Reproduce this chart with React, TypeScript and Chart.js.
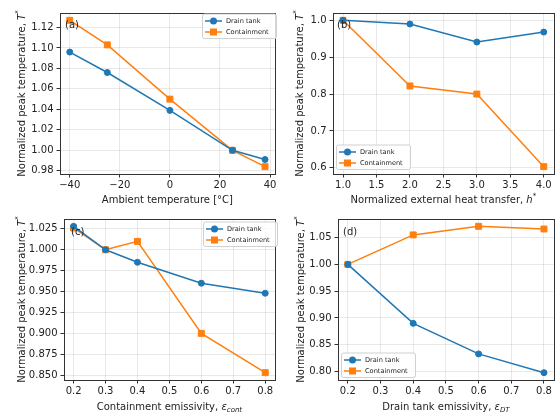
import React, { useEffect, useRef } from "react";
import { Chart, registerables } from "chart.js";

Chart.register(...registerables);

// ---------- data ----------
const ambientTemp = [-40, -25, 0, 25, 38];
const ambientDrain = [1.096, 1.076, 1.039, 1.0, 0.991];
const ambientCont = [1.127, 1.103, 1.05, 1.0, 0.984];
const ambientXTicks = [-40, -20, 0, 20, 40];
const ambientYTicks = [0.98, 1.0, 1.02, 1.04, 1.06, 1.08, 1.1, 1.12];

const heatTransfer = [1, 2, 3, 4];
const heatDrain = [1.0, 0.99, 0.941, 0.968];
const heatCont = [1.0, 0.822, 0.8, 0.603];
const heatXTicks = [1.0, 1.5, 2.0, 2.5, 3.0, 3.5, 4.0];
const heatYTicks = [0.6, 0.7, 0.8, 0.9, 1.0];

const contEmis = [0.2, 0.3, 0.4, 0.6, 0.8];
const contEmisDrain = [1.028, 1.0, 0.985, 0.96, 0.948];
const contEmisCont = [1.026, 1.0, 1.01, 0.9, 0.853];
const contEmisXTicks = [0.2, 0.3, 0.4, 0.5, 0.6, 0.7, 0.8];
const contEmisYTicks = [0.85, 0.875, 0.9, 0.925, 0.95, 0.975, 1.0, 1.025];

const dtEmis = [0.2, 0.4, 0.6, 0.8];
const dtEmisDrain = [1.0, 0.89, 0.833, 0.798];
const dtEmisCont = [1.0, 1.055, 1.071, 1.066];
const dtEmisXTicks = [0.2, 0.3, 0.4, 0.5, 0.6, 0.7, 0.8];
const dtEmisYTicks = [0.8, 0.85, 0.9, 0.95, 1.0, 1.05];

const seriesNames = ["Drain tank", "Containment"];
const BLUE = "#1f77b4";
const ORANGE = "#ff7f0e";
const FONT = '"DejaVu Sans", sans-serif';
const TEXT = "#222";

type Seg = { t: string; it?: boolean; sub?: boolean; sup?: boolean };

const yTitle: Seg[] = [
  { t: "Normalized peak temperature, " },
  { t: "T", it: true },
  { t: "*", sup: true },
];

function drawRich(ctx: CanvasRenderingContext2D, segs: Seg[], x: number, y: number, rot: number, size: number) {
  ctx.save();
  ctx.translate(x, y);
  ctx.rotate(rot);
  const fontFor = (s: Seg) => `${s.it ? "italic " : ""}${s.sub || s.sup ? size * 0.7 : size}px ${FONT}`;
  const widths = segs.map((s) => {
    ctx.font = fontFor(s);
    return ctx.measureText(s.t).width;
  });
  const total = widths.reduce((a, b) => a + b, 0);
  let cx = -total / 2;
  ctx.textAlign = "left";
  ctx.textBaseline = "alphabetic";
  ctx.fillStyle = TEXT;
  const base = size * 0.36;
  segs.forEach((s, i) => {
    ctx.font = fontFor(s);
    const dy = s.sub ? size * 0.22 : s.sup ? -size * 0.42 : 0;
    ctx.fillText(s.t, cx, base + dy);
    cx += widths[i];
  });
  ctx.restore();
}

type Panel = {
  canvas: { l: number; t: number; w: number; h: number };
  area: { l: number; t: number; r: number; b: number };
  x: number[];
  drain: number[];
  cont: number[];
  xTicks: number[];
  yTicks: number[];
  xDec: number;
  yDec: number;
  xTitle: Seg[];
  xTitleY: number;
  yTitleX: number;
  label: string;
  labelPos: { x: number; y: number };
  legend: { x: number; y: number };
};

const panels: Panel[] = [
  {
    canvas: { l: 0, t: 0, w: 280, h: 205 },
    area: { l: 60, t: 13, r: 277, b: 174 },
    x: ambientTemp,
    drain: ambientDrain,
    cont: ambientCont,
    xTicks: ambientXTicks,
    yTicks: ambientYTicks,
    xDec: 0,
    yDec: 2,
    xTitle: [{ t: "Ambient temperature [°C]" }],
    xTitleY: 199,
    yTitleX: 21,
    label: "(a)",
    labelPos: { x: 65, y: 25 },
    legend: { x: 202, y: 13.5 },
  },
  {
    canvas: { l: 279, t: 0, w: 280, h: 205 },
    area: { l: 333, t: 13, r: 557, b: 174 },
    x: heatTransfer,
    drain: heatDrain,
    cont: heatCont,
    xTicks: heatXTicks,
    yTicks: heatYTicks,
    xDec: 1,
    yDec: 1,
    xTitle: [
      { t: "Normalized external heat transfer, " },
      { t: "h", it: true },
      { t: "*", sup: true },
    ],
    xTitleY: 199,
    yTitleX: 299,
    label: "(b)",
    labelPos: { x: 337, y: 25 },
    legend: { x: 336, y: 144.5 },
  },
  {
    canvas: { l: 0, t: 205, w: 280, h: 210 },
    area: { l: 64, t: 219, r: 279, b: 380 },
    x: contEmis,
    drain: contEmisDrain,
    cont: contEmisCont,
    xTicks: contEmisXTicks,
    yTicks: contEmisYTicks,
    xDec: 1,
    yDec: 3,
    xTitle: [
      { t: "Containment emissivity, " },
      { t: "ε", it: true },
      { t: "cont", it: true, sub: true },
    ],
    xTitleY: 406,
    yTitleX: 21,
    label: "(c)",
    labelPos: { x: 71, y: 232 },
    legend: { x: 203, y: 221.5 },
  },
  {
    canvas: { l: 279, t: 205, w: 280, h: 210 },
    area: { l: 338, t: 219, r: 557, b: 380 },
    x: dtEmis,
    drain: dtEmisDrain,
    cont: dtEmisCont,
    xTicks: dtEmisXTicks,
    yTicks: dtEmisYTicks,
    xDec: 1,
    yDec: 2,
    xTitle: [
      { t: "Drain tank emissivity, " },
      { t: "ε", it: true },
      { t: "DT", it: true, sub: true },
    ],
    xTitleY: 406,
    yTitleX: 300,
    label: "(d)",
    labelPos: { x: 343, y: 232 },
    legend: { x: 341, y: 352.5 },
  },
];

function range(vals: number[]) {
  const mn = Math.min(...vals);
  const mx = Math.max(...vals);
  const m = (mx - mn) * 0.05;
  return { min: mn - m, max: mx + m };
}

function fmt(v: number, dec: number) {
  const s = v.toFixed(dec);
  return s.replace("-", "\u2212");
}

function PanelChart({ p }: { p: Panel }) {
  const ref = useRef<HTMLCanvasElement | null>(null);
  useEffect(() => {
    if (!ref.current) return;
    const c = p.canvas;
    const a = p.area;
    const xr = range(p.x);
    const yr = range([...p.drain, ...p.cont]);
    const overlay = {
      id: "overlay",
      afterDraw(chart: any) {
        const ctx: CanvasRenderingContext2D = chart.ctx;
        const ca = chart.chartArea;
        // frame
        ctx.save();
        ctx.strokeStyle = "#333";
        ctx.lineWidth = 1;
        ctx.strokeRect(Math.round(ca.left) + 0.5, Math.round(ca.top) + 0.5, Math.round(ca.right - ca.left), Math.round(ca.bottom - ca.top));
        ctx.restore();
        // panel label
        ctx.save();
        ctx.font = `10px ${FONT}`;
        ctx.fillStyle = TEXT;
        ctx.textAlign = "left";
        ctx.textBaseline = "middle";
        ctx.fillText(p.label, p.labelPos.x - c.l, p.labelPos.y - c.t);
        ctx.restore();
        // legend
        const lx = p.legend.x - c.l;
        const ly = p.legend.y - c.t;
        const lw = 74;
        const lh = 24.5;
        ctx.save();
        ctx.beginPath();
        (ctx as any).roundRect(lx + 0.5, ly + 0.5, lw, lh, 2);
        ctx.fillStyle = "rgba(255,255,255,0.8)";
        ctx.fill();
        ctx.strokeStyle = "#d0d0d0";
        ctx.lineWidth = 1;
        ctx.stroke();
        const rows = [ly + 7.5, ly + 18.5];
        const colors = [BLUE, ORANGE];
        rows.forEach((ry, i) => {
          ctx.strokeStyle = colors[i];
          ctx.fillStyle = colors[i];
          ctx.lineWidth = 1.5;
          ctx.beginPath();
          ctx.moveTo(lx + 3, ry);
          ctx.lineTo(lx + 20, ry);
          ctx.stroke();
          if (i === 0) {
            ctx.beginPath();
            ctx.arc(lx + 11.5, ry, 3.5, 0, Math.PI * 2);
            ctx.fill();
          } else {
            ctx.fillRect(lx + 8, ry - 3.5, 7, 7);
          }
          ctx.fillStyle = TEXT;
          ctx.font = `6.6px ${FONT}`;
          ctx.textAlign = "left";
          ctx.textBaseline = "middle";
          ctx.fillText(seriesNames[i], lx + 24, ry + 0.5);
        });
        ctx.restore();
        // axis titles
        drawRich(ctx, p.xTitle, (ca.left + ca.right) / 2, p.xTitleY - c.t, 0, 10);
        drawRich(ctx, yTitle, p.yTitleX - c.l, (ca.top + ca.bottom) / 2, -Math.PI / 2, 10);
      },
    };
    const mkDs = (label: string, vals: number[], color: string, style: string, r: number) => ({
      label,
      data: p.x.map((xv, i) => ({ x: xv, y: vals[i] })),
      borderColor: color,
      backgroundColor: color,
      borderWidth: 1.5,
      pointStyle: style,
      pointRadius: r,
      pointHoverRadius: r,
      pointBackgroundColor: color,
      pointBorderColor: color,
      pointBorderWidth: 1,
      tension: 0,
      clip: false as any,
    });
    const gridColor = "rgba(176,176,176,0.28)";
    const chart = new Chart(ref.current, {
      type: "line",
      data: {
        datasets: [
          mkDs(seriesNames[0], p.drain, BLUE, "circle", 3),
          mkDs(seriesNames[1], p.cont, ORANGE, "rect", 4.2),
        ] as any,
      },
      options: {
        responsive: false,
        animation: false,
        events: [],
        layout: {
          padding: { left: 0, top: a.t - c.t, right: c.l + c.w - a.r, bottom: 0 },
        },
        plugins: { legend: { display: false }, tooltip: { enabled: false } },
        scales: {
          x: {
            type: "linear",
            min: xr.min,
            max: xr.max,
            afterBuildTicks: (s: any) => {
              s.ticks = p.xTicks.map((v) => ({ value: v }));
            },
            afterFit: (s: any) => {
              s.height = c.t + c.h - a.b;
            },
            grid: { color: gridColor, tickColor: "#333", tickLength: 3.5, tickWidth: 1, lineWidth: 1 },
            border: { display: false },
            ticks: {
              autoSkip: false,
              maxRotation: 0,
              minRotation: 0,
              padding: 2,
              color: TEXT,
              font: { family: FONT, size: 10 },
              callback: (v: any) => fmt(Number(v), p.xDec),
            },
          },
          y: {
            type: "linear",
            min: yr.min,
            max: yr.max,
            afterBuildTicks: (s: any) => {
              s.ticks = p.yTicks.map((v) => ({ value: v }));
            },
            afterFit: (s: any) => {
              s.width = a.l - c.l;
            },
            grid: { color: gridColor, tickColor: "#333", tickLength: 3.5, tickWidth: 1, lineWidth: 1 },
            border: { display: false },
            ticks: {
              autoSkip: false,
              padding: 3,
              color: TEXT,
              font: { family: FONT, size: 10 },
              callback: (v: any) => fmt(Number(v), p.yDec),
            },
          },
        },
      },
      plugins: [overlay],
    } as any);
    return () => chart.destroy();
  }, [p]);
  const c = p.canvas;
  return (
    <canvas
      ref={ref}
      width={c.w}
      height={c.h}
      style={{ position: "absolute", left: c.l, top: c.t, width: c.w, height: c.h }}
    />
  );
}

export default function App() {
  return (
    <div style={{ position: "absolute", left: 0, top: 0, width: 559, height: 415, background: "#fff" }}>
      {panels.map((p, i) => (
        <PanelChart key={i} p={p} />
      ))}
    </div>
  );
}
